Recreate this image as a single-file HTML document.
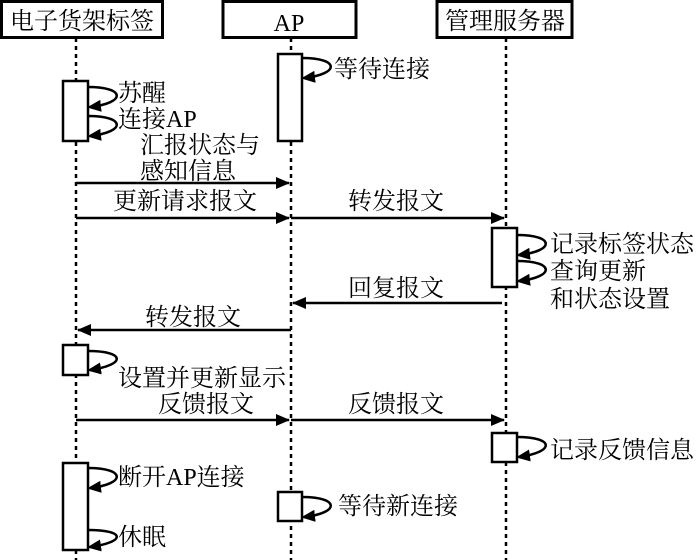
<!DOCTYPE html>
<html><head><meta charset="utf-8"><style>
html,body{margin:0;padding:0;background:#fff;}
svg{display:block;}
text{font-family:"Liberation Serif","Noto Serif CJK SC",serif;font-size:24px;fill:#000;}
</style></head><body>
<svg width="700" height="560" viewBox="0 0 700 560" xmlns="http://www.w3.org/2000/svg">
<defs>
<marker id="a" markerWidth="14" markerHeight="12" refX="13" refY="6" orient="auto" markerUnits="userSpaceOnUse">
<path d="M0,0 L14,6 L0,12 Z" fill="#000"/></marker>
<marker id="b" markerWidth="14" markerHeight="12" refX="11" refY="6" orient="auto" markerUnits="userSpaceOnUse">
<path d="M0,0 L14,6 L0,12 Z" fill="#000"/></marker>
</defs>
<g stroke="#000" stroke-width="2.5" stroke-dasharray="4,4">
<line x1="76" y1="38" x2="76" y2="560"/>
<line x1="291" y1="38" x2="291" y2="560"/>
<line x1="506" y1="38" x2="506" y2="560"/>
</g>
<g fill="#fff" stroke="#000" stroke-width="3">
<rect x="1.5" y="1.5" width="161" height="36"/>
<rect x="223" y="1.5" width="133" height="36"/>
<rect x="437" y="1.5" width="135" height="36"/>
</g>
<text x="82" y="29" text-anchor="middle">电子货架标签</text>
<text x="289" y="31" text-anchor="middle">AP</text>
<text x="505" y="29" text-anchor="middle">管理服务器</text>
<g fill="#fff" stroke="#000" stroke-width="2.5">
<rect x="63" y="81" width="25" height="60"/>
<rect x="278" y="54" width="24" height="87"/>
<rect x="492" y="228" width="25" height="59"/>
<rect x="63" y="345" width="25" height="30"/>
<rect x="492" y="433" width="25" height="29"/>
<rect x="63" y="463" width="25" height="87"/>
<rect x="278" y="492" width="24" height="29"/>
</g>
<g fill="none" stroke="#000" stroke-width="2.5" marker-end="url(#b)">
<path d="M302,58 C340,58 340,74 304,78"/>
<path d="M88,87 C126,87 126,103 90,107"/>
<path d="M88,116 C126,116 126,132 90,136"/>
<path d="M517,235 C555,235 555,251 519,255"/>
<path d="M517,261 C555,261 555,277 519,281"/>
<path d="M88,351 C126,351 126,365 90,370"/>
<path d="M517,437 C555,437 555,452 519,457"/>
<path d="M88,468 C126,468 126,484 90,488"/>
<path d="M88,530 C126,530 126,542 90,547"/>
<path d="M302,497 C340,497 340,513 304,517"/>
</g>
<g stroke="#000" stroke-width="2.5" marker-end="url(#a)">
<line x1="76" y1="183" x2="289" y2="183"/>
<line x1="76" y1="218" x2="289" y2="218"/>
<line x1="291" y1="218" x2="504" y2="218"/>
<line x1="502" y1="303" x2="293" y2="303"/>
<line x1="291" y1="330" x2="78" y2="330"/>
<line x1="76" y1="420" x2="289" y2="420"/>
<line x1="291" y1="420" x2="504" y2="420"/>
</g>
<text x="118" y="101">苏醒</text>
<text x="118" y="127">连接AP</text>
<text x="140" y="153">汇报状态与</text>
<text x="140" y="179">感知信息</text>
<text x="113" y="209">更新请求报文</text>
<text x="348" y="209">转发报文</text>
<text x="334" y="77">等待连接</text>
<text x="550" y="252">记录标签状态</text>
<text x="550" y="279">查询更新</text>
<text x="550" y="307">和状态设置</text>
<text x="348" y="296">回复报文</text>
<text x="145" y="325">转发报文</text>
<text x="118" y="386">设置并更新显示</text>
<text x="158" y="412">反馈报文</text>
<text x="348" y="412">反馈报文</text>
<text x="550" y="458">记录反馈信息</text>
<text x="118" y="485">断开AP连接</text>
<text x="338" y="514">等待新连接</text>
<text x="118" y="545">休眠</text>
</svg>
</body></html>
